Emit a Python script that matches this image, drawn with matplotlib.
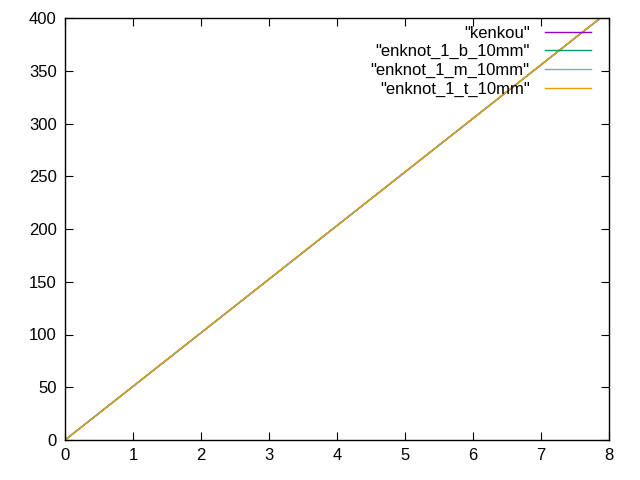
import matplotlib.pyplot as plt

plt.rcParams['font.family'] = ['Liberation Sans', 'DejaVu Sans']

# displacement vs value (nearly identical lines)
x = [0, 1, 2, 3, 4, 5, 6, 7, 8]
kenkou = [0, 50.8, 101.6, 152.4, 203.2, 254.0, 304.8, 355.6, 406.4]
enknot_b = [0, 50.8, 101.6, 152.4, 203.2, 254.0, 304.8, 355.6, 406.4]
enknot_m = [0, 50.8, 101.6, 152.4, 203.2, 254.0, 304.8, 355.6, 406.4]
enknot_t = [0, 50.9, 101.7, 152.5, 203.3, 254.1, 304.9, 355.7, 406.5]

labels = ['"kenkou"', '"enknot_1_b_10mm"', '"enknot_1_m_10mm"', '"enknot_1_t_10mm"']
colors = ['#9400d3', '#009e73', '#56b4e9', '#e69f00']

fig = plt.figure(figsize=(6.4, 4.8), dpi=100)
ax = fig.add_axes([65 / 640, 40 / 480, 544 / 640, 422 / 480])

for ys, lab, c in zip([kenkou, enknot_b, enknot_m, enknot_t], labels, colors):
    ax.plot(x, ys, color=c, lw=1, label=lab)

ax.set_xlim(0, 8)
ax.set_ylim(0, 400)
ax.set_xticks(range(0, 9))
ax.set_yticks(range(0, 401, 50))
ax.tick_params(direction='in', top=True, right=True, labelsize=12, length=6, pad=6)
for s in ax.spines.values():
    s.set_linewidth(1)

ax.legend(loc='upper right', bbox_to_anchor=(1 - 6 / 544, 1 + 4 / 422), frameon=False,
          markerfirst=False, fontsize=12, handlelength=2.8, handletextpad=0.9,
          labelspacing=0.22, borderaxespad=0.3)

fig.savefig('out.png', dpi=100)
